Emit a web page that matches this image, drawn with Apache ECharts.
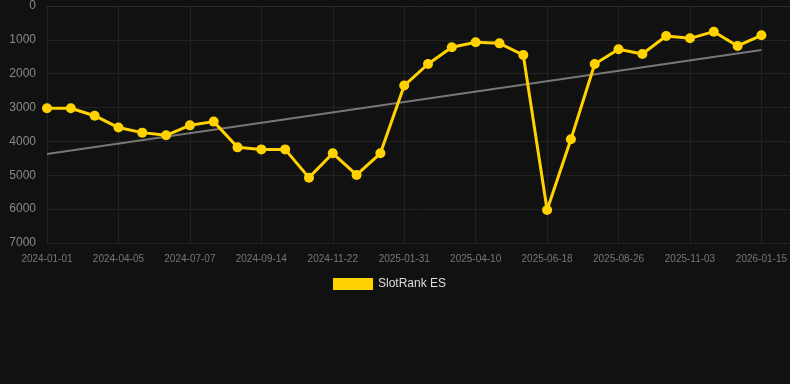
<!DOCTYPE html>
<html>
<head>
<meta charset="utf-8">
<script src="https://cdn.jsdelivr.net/npm/echarts@6/dist/echarts.min.js"></script>
<style>
html,body{margin:0;padding:0;background:#111111;}
#chart{width:790px;height:384px;}
</style>
</head>
<body>
<div id="chart"></div>
<script>
var categories = [
  '2024-01-01','2024-02-01','2024-03-04','2024-04-05','2024-05-06','2024-06-06',
  '2024-07-07','2024-07-30','2024-08-22','2024-09-14','2024-10-07','2024-10-30',
  '2024-11-22','2024-12-15','2025-01-08','2025-01-31','2025-02-23','2025-03-18',
  '2025-04-10','2025-05-03','2025-05-26','2025-06-18','2025-07-11','2025-08-03',
  '2025-08-26','2025-09-18','2025-10-11','2025-11-03','2025-11-27','2025-12-21',
  '2026-01-15'
];
var rankValues = [
  3020, 3020, 3240, 3590, 3740, 3820,
  3525, 3415, 4175, 4235, 4235, 5070,
  4350, 4990, 4350, 2350, 1713, 1220,
  1073, 1103, 1447, 6025, 3938, 1713,
  1280, 1418, 886, 955, 758, 1181,
  866
];
var trendValues = [4370, 1300];
var yTicks = [0, 1000, 2000, 3000, 4000, 5000, 6000, 7000];
var seriesName = 'SlotRank ES';

var rankData = rankValues.map(function (v, i) { return [i, v]; });
var trendData = [[0, trendValues[0]], [categories.length - 1, trendValues[1]]];

var chart = echarts.init(document.getElementById('chart'));
chart.setOption({
  backgroundColor: '#111111',
  animation: false,
  textStyle: { fontFamily: 'Liberation Sans, Arial, sans-serif' },
  grid: { left: 47, right: 0, top: 6, bottom: 141, containLabel: false },
  legend: {
    data: [{ name: seriesName, icon: 'rect' }],
    left: 328,
    top: 273,
    itemWidth: 40,
    itemHeight: 12,
    itemGap: 10,
    textStyle: { color: '#dddddd', fontSize: 12 }
  },
  xAxis: {
    type: 'value',
    min: 0,
    max: 31.2,
    interval: 3,
    axisLine: { show: true, lineStyle: { color: '#2c2c2c' } },
    axisTick: { show: false },
    splitLine: { show: true, lineStyle: { color: '#222222' } },
    axisLabel: {
      color: '#777777',
      fontSize: 10,
      margin: 11,
      showMaxLabel: false,
      formatter: function (v) {
        return (Number.isInteger(v) && categories[v]) ? categories[v] : '';
      }
    }
  },
  yAxis: {
    type: 'value',
    inverse: true,
    min: yTicks[0],
    max: yTicks[yTicks.length - 1],
    interval: 1000,
    axisLine: { show: false },
    axisTick: { show: false },
    splitLine: { show: true, lineStyle: { color: '#222222' } },
    axisLabel: {
      color: '#888888', fontSize: 12, margin: 11,
      formatter: function (v) { return String(v); }
    }
  },
  series: [
    {
      name: 'Trend',
      type: 'line',
      data: trendData,
      showSymbol: false,
      symbol: 'none',
      silent: true,
      lineStyle: { color: '#777777', width: 2 },
      z: 1
    },
    {
      name: seriesName,
      type: 'line',
      data: rankData,
      symbol: 'circle',
      symbolSize: 10,
      itemStyle: { color: '#FFD200' },
      lineStyle: { color: '#FFD200', width: 3 },
      z: 2
    }
  ]
});
</script>
</body>
</html>
